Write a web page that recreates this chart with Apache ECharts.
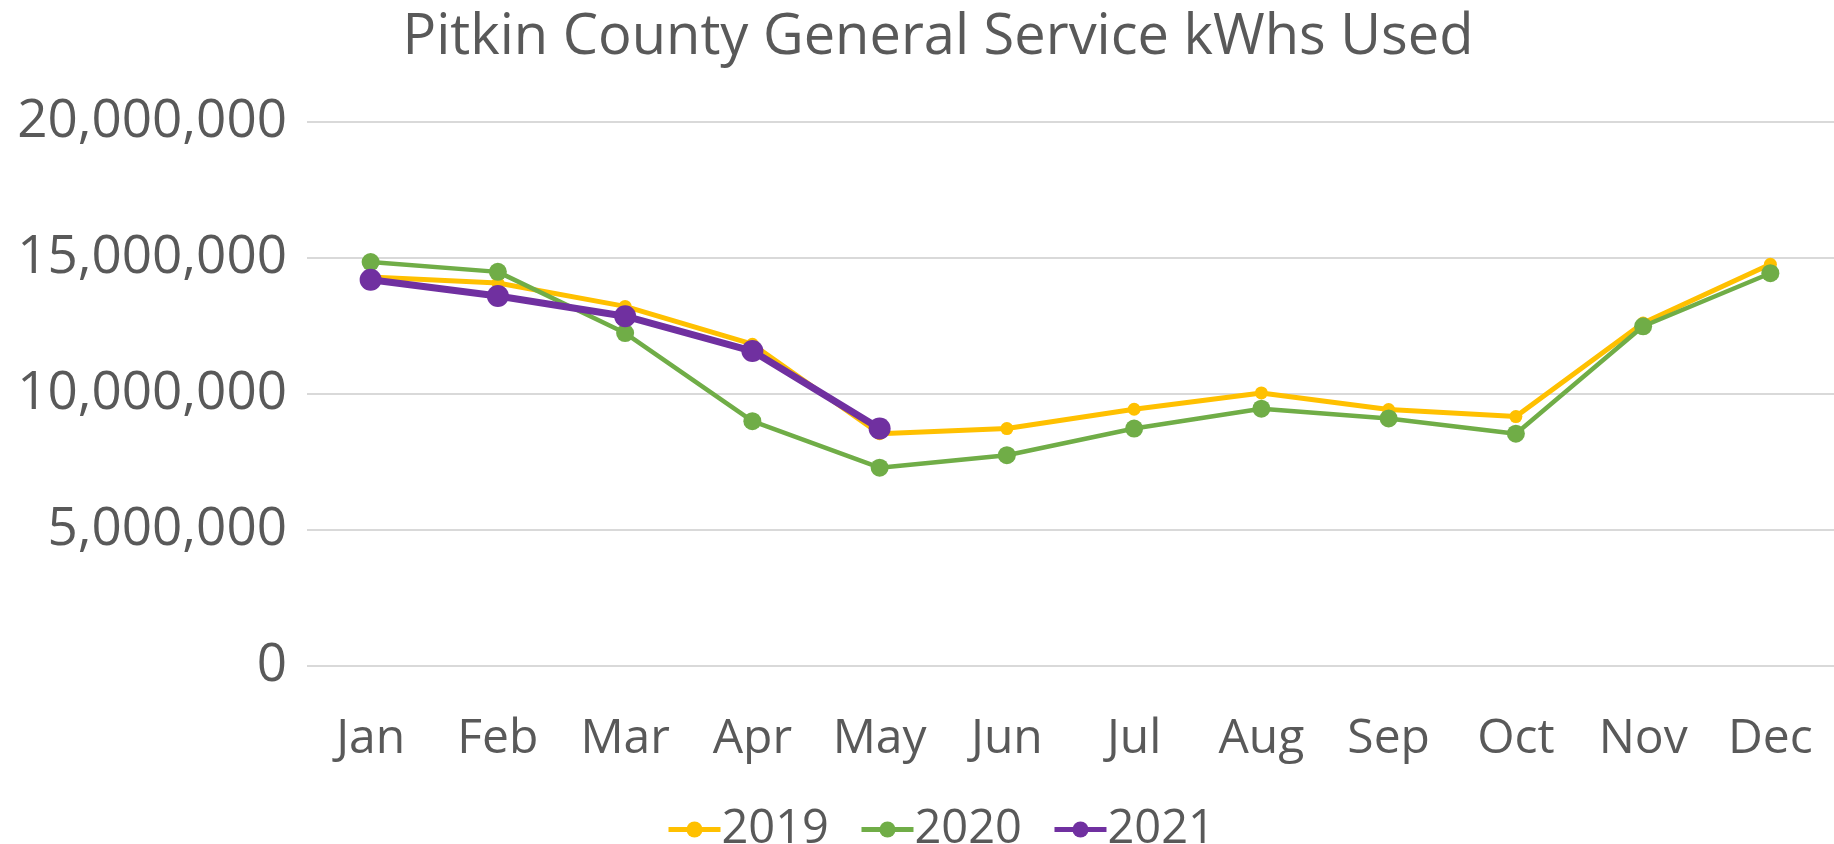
<!DOCTYPE html>
<html>
<head>
<meta charset="utf-8">
<script src="https://cdn.jsdelivr.net/npm/echarts@6/dist/echarts.min.js"></script>
<style>
  html, body { margin: 0; padding: 0; background: #ffffff; }
  #chart { width: 1834px; height: 844px; }
</style>
</head>
<body>
<div id="chart"></div>
<script>
// months on the category axis
const months = ['Jan', 'Feb', 'Mar', 'Apr', 'May', 'Jun', 'Jul', 'Aug', 'Sep', 'Oct', 'Nov', 'Dec']

// kWh values
const kwh2019 = [14300000, 14080000, 13220000, 11830000, 8540000, 8730000, 9440000, 10040000, 9430000, 9170000, 12610000, 14770000]
const kwh2020 = [14850000, 14490000, 12240000, 9000000, 7290000, 7750000, 8730000, 9460000, 9100000, 8540000, 12490000, 14440000]
const kwh2021 = [14200000, 13600000, 12860000, 11580000, 8730000]

const yTicks = [0, 5000000, 10000000, 15000000, 20000000]

const textColor = '#595959'
const font = 'Open Sans'

const chart = echarts.init(document.getElementById('chart'))

const lineSeries = (name, data, color, width, size) => ({
	name: name,
	type: 'line',
	data: data,
	symbol: 'circle',
	symbolSize: size,
	lineStyle: { color: color, width: width },
	itemStyle: { color: color },
	emphasis: { disabled: true }
})

chart.setOption({
	animation: false,
	textStyle: { fontFamily: font },
	title: {
		text: 'Pitkin County General Service kWhs Used',
		left: 933,
		textAlign: 'center',
		top: 5,
		textStyle: { fontFamily: font, fontSize: 56, fontWeight: 'normal', color: textColor }
	},
	grid: { left: 307, right: 0, top: 122, bottom: 178 },
	xAxis: {
		type: 'category',
		data: months,
		boundaryGap: true,
		axisLine: { show: false },
		axisTick: { show: false },
		axisLabel: { fontSize: 48, color: textColor, margin: 49, fontFamily: font }
	},
	yAxis: {
		type: 'value',
		min: yTicks[0],
		max: yTicks[yTicks.length - 1],
		interval: yTicks[1] - yTicks[0],
		axisLine: { show: false },
		axisTick: { show: false },
		splitLine: { lineStyle: { color: '#d9d9d9', width: 2 } },
		axisLabel: {
			fontSize: 53,
			color: textColor,
			margin: 20,
			fontFamily: font,
			formatter: (v) => v.toLocaleString('en-US')
		}
	},
	legend: {
		bottom: -14,
		left: 661,
		itemWidth: 52,
		itemHeight: 20,
		itemGap: 30,
		lineStyle: { width: 5 },
		textStyle: { fontSize: 47, color: textColor, fontFamily: font, padding: [0, 0, 0, -4] },
		data: ['2019', '2020', '2021']
	},
	series: [
		lineSeries('2019', kwh2019, '#ffc000', 5, 13),
		lineSeries('2020', kwh2020, '#70ad47', 4.5, 18),
		lineSeries('2021', kwh2021, '#7030a0', 7, 22)
	]
})
</script>
</body>
</html>
